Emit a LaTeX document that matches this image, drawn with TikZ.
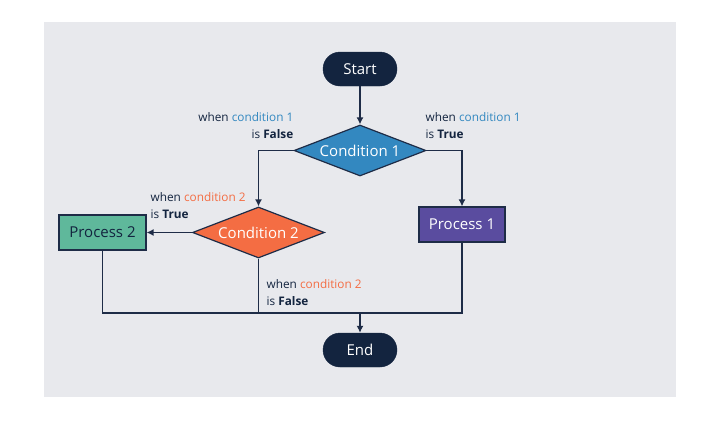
\documentclass[tikz,border=0pt]{standalone}
\usepackage{fontspec}
\setmainfont{Open Sans}
\usetikzlibrary{positioning,arrows.meta,shapes.geometric}
\definecolor{bg-gray}{HTML}{E8E9ED}
\definecolor{dark-navy}{HTML}{13243F}
\definecolor{line-navy}{HTML}{1E2C47}
\definecolor{cond-blue}{HTML}{3388C0}
\definecolor{cond-orange}{HTML}{F46D43}
\definecolor{proc-purple}{HTML}{5A4C9F}
\definecolor{proc-green}{HTML}{5FB89B}
\tikzstyle{terminalstyle}=[shape=rectangle,rounded corners=17pt,fill=dark-navy,draw=dark-navy,text=white,minimum width=74pt,minimum height=34pt,font=\fontsize{15}{17}\selectfont]
\tikzstyle{decisionstyle}=[shape=diamond,aspect=2.59,draw=line-navy,line width=1.2pt,text=white,minimum width=132pt,minimum height=51pt,inner sep=0pt,font=\fontsize{15}{17}\selectfont]
\tikzstyle{processstyle}=[shape=rectangle,draw=line-navy,line width=1.2pt,minimum width=86pt,minimum height=35pt,font=\fontsize{15}{17}\selectfont]
\tikzstyle{labelstyle}=[inner sep=0pt,text=dark-navy,font=\fontsize{11.8}{17}\selectfont]
\tikzstyle{flowstyle}=[draw=line-navy,line width=1.3pt]
\tikzstyle{arrowstyle}=[flowstyle,-{Latex[length=7pt,width=7pt]}]
\newcommand{\whenlabel}[2]{when \textcolor{#1}{#2}}

\begin{document}
\begin{tikzpicture}[x=1pt,y=-1pt]
\useasboundingbox (0,0) rectangle (721,421);
\fill[bg-gray] (44,22) rectangle (676,397);
% nodes
\node[terminalstyle] (start) at (360,69) {Start};
\node[decisionstyle,fill=cond-blue] (condone) at (360,150.5) {Condition 1};
\node[decisionstyle,fill=cond-orange] (condtwo) at (258.5,232.5) {Condition 2};
\node[processstyle,fill=proc-green,text=dark-navy,minimum width=87pt] (proctwo) at (102.5,232.5) {Process 2};
\node[processstyle,fill=proc-purple,text=white] (procone) at (462,224.5) {Process 1};
\node[terminalstyle] (end) at (360,350) {End};
\coordinate (merge) at (360,313);
% labels
\node[labelstyle,align=right,anchor=east] (lblonefalse) at (293.5,125.5) {\whenlabel{cond-blue}{condition 1}\\is \textbf{False}};
\node[labelstyle,align=left,anchor=west] (lblonetrue) at (425.5,125.5) {\whenlabel{cond-blue}{condition 1}\\is \textbf{True}};
\node[labelstyle,align=left,anchor=west] (lbltwotrue) at (150.5,205.5) {\whenlabel{cond-orange}{condition 2}\\is \textbf{True}};
\node[labelstyle,align=left,anchor=west] (lbltwofalse) at (266.5,292.5) {\whenlabel{cond-orange}{condition 2}\\is \textbf{False}};
% connectors
\draw[arrowstyle] (start) -- (condone);
\draw[arrowstyle] (condone.west) -| (condtwo.north);
\draw[arrowstyle] (condone.east) -| (procone.north);
\draw[arrowstyle] (condtwo.west) -- (proctwo.east);
\draw[flowstyle] (proctwo.south) |- (procone |- merge) -- (procone.south);
\draw[flowstyle] (condtwo.south) -- (condtwo |- merge);
\draw[arrowstyle] (merge) -- (end);
\end{tikzpicture}
\end{document}
